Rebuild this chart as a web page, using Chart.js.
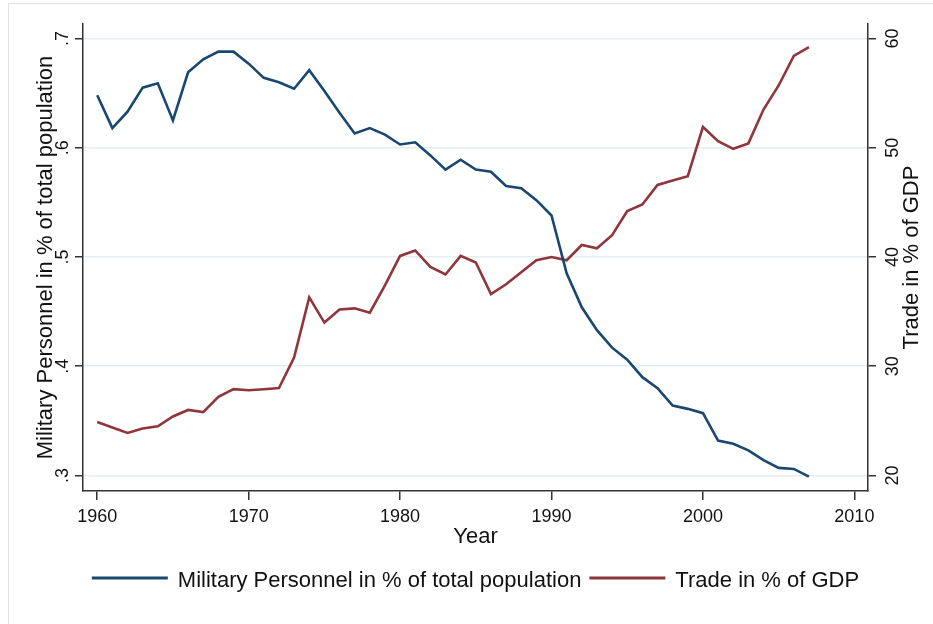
<!DOCTYPE html>
<html>
<head>
<meta charset="utf-8">
<script src="https://cdn.jsdelivr.net/npm/chart.js@4/dist/chart.umd.min.js"></script>
<style>
  html, body { margin: 0; padding: 0; background: #fff; }
  #wrap { width: 933px; height: 624px; position: relative; }
</style>
</head>
<body>
<div id="wrap"><canvas id="chart" width="933" height="624"></canvas></div>
<script>
// data
const years = [1960,1961,1962,1963,1964,1965,1966,1967,1968,1969,
    1970,1971,1972,1973,1974,1975,1976,1977,1978,1979,
    1980,1981,1982,1983,1984,1985,1986,1987,1988,1989,
    1990,1991,1992,1993,1994,1995,1996,1997,1998,1999,
    2000,2001,2002,2003,2004,2005,2006,2007];

const military = [0.648,0.618,0.633,0.655,0.659,0.625,0.669,0.681,0.688,0.688,
    0.677,0.664,0.660,0.654,0.671,0.652,0.632,0.613,0.618,0.612,
    0.603,0.605,0.593,0.580,0.589,0.580,0.578,0.565,0.563,0.552,
    0.538,0.485,0.454,0.433,0.417,0.406,0.390,0.380,0.364,0.361,
    0.357,0.332,0.329,0.323,0.314,0.307,0.306,0.299];

const trade = [24.9,24.4,23.9,24.3,24.5,25.4,26.0,25.8,27.2,27.9,
    27.8,27.9,28.0,30.8,36.3,34.0,35.2,35.3,34.9,37.4,
    40.1,40.6,39.1,38.4,40.1,39.5,36.6,37.5,38.6,39.7,
    40.0,39.7,41.1,40.8,42.0,44.2,44.8,46.6,47.0,47.4,
    51.9,50.6,49.9,50.4,53.5,55.7,58.4,59.2];

const seriesNames = ['Military Personnel in % of total population', 'Trade in % of GDP'];
const seriesColors = ['#1a476f', '#90353b'];

const xTicks = [1960, 1970, 1980, 1990, 2000, 2010];
const leftTicks = [0.3, 0.4, 0.5, 0.6, 0.7];
const leftTickLabels = ['.3', '.4', '.5', '.6', '.7'];
const rightTicks = [20, 30, 40, 50, 60];
const rightTickLabels = ['20', '30', '40', '50', '60'];

const xTitle = 'Year';
const leftTitle = 'Military Personnel in % of total population';
const rightTitle = 'Trade in % of GDP';

const FONT = '"Liberation Sans", Arial, sans-serif';
const AXIS = '#333';

const textPlugin = {
    id: 'stataText',
    beforeDraw(chart) {
        const ctx = chart.ctx;
        ctx.save();
        ctx.strokeStyle = '#e3e3e3';
        ctx.lineWidth = 1;
        ctx.strokeRect(8.5, 3.5, 1000, 1000);
        ctx.restore();
    },
    afterDraw(chart) {
        const ctx = chart.ctx;
        const area = chart.chartArea;
        const sx = chart.scales.x, yl = chart.scales.y, yr = chart.scales.y1;
        ctx.save();
        ctx.fillStyle = '#111';

        // x tick labels
        ctx.font = '18px ' + FONT;
        ctx.textAlign = 'center';
        ctx.textBaseline = 'alphabetic';
        xTicks.forEach(v => ctx.fillText(String(v), sx.getPixelForValue(v), 522));

        // x title
        ctx.font = '22px ' + FONT;
        ctx.fillText(xTitle, (area.left + area.right) / 2, 543);

        // rotated labels
        const vtext = (txt, x, y, font) => {
            ctx.save();
            ctx.translate(x, y);
            ctx.rotate(-Math.PI / 2);
            ctx.font = font;
            ctx.textAlign = 'center';
            ctx.fillText(txt, 0, 0);
            ctx.restore();
        };
        leftTicks.forEach((v, i) => vtext(leftTickLabels[i], 68, yl.getPixelForValue(v), '18px ' + FONT));
        rightTicks.forEach((v, i) => vtext(rightTickLabels[i], 898, yr.getPixelForValue(v), '18px ' + FONT));
        const midY = (area.top + area.bottom) / 2;
        vtext(leftTitle, 52, midY, '22px ' + FONT);
        vtext(rightTitle, 918, midY, '22px ' + FONT);

        // legend
        ctx.font = '22px ' + FONT;
        const sample = 76, gapText = 10, gapItem = 8;
        const widths = seriesNames.map(n => ctx.measureText(n).width);
        let total = 0;
        widths.forEach((w, i) => { total += sample + gapText + w + (i < widths.length - 1 ? gapItem : 0); });
        let x = (area.left + area.right) / 2 - total / 2;
        const ly = 578;
        seriesNames.forEach((n, i) => {
            ctx.strokeStyle = seriesColors[i];
            ctx.lineWidth = 3;
            ctx.beginPath();
            ctx.moveTo(x, ly);
            ctx.lineTo(x + sample, ly);
            ctx.stroke();
            x += sample + gapText;
            ctx.textAlign = 'left';
            ctx.fillText(n, x, 587);
            x += widths[i] + gapItem;
        });
        ctx.restore();
    }
};

const ctx = document.getElementById('chart').getContext('2d');
new Chart(ctx, {
    type: 'line',
    data: {
        datasets: [{
            label: seriesNames[0],
            data: years.map((yr, i) => ({ x: yr, y: military[i] })),
            borderColor: seriesColors[0],
            borderWidth: 2.6,
            pointRadius: 0,
            tension: 0,
            yAxisID: 'y'
        }, {
            label: seriesNames[1],
            data: years.map((yr, i) => ({ x: yr, y: trade[i] })),
            borderColor: seriesColors[1],
            borderWidth: 2.6,
            pointRadius: 0,
            tension: 0,
            yAxisID: 'y1'
        }]
    },
    options: {
        responsive: false,
        animation: false,
        layout: { padding: { left: 0, right: 0, top: 24, bottom: 0 } },
        plugins: { legend: { display: false }, tooltip: { enabled: false } },
        scales: {
            x: {
                type: 'linear',
                min: 1959.06,
                max: 2010.9,
                afterBuildTicks: s => { s.ticks = xTicks.map(v => ({ value: v })); },
                afterFit: s => { s.height = 133; },
                ticks: { display: false },
                grid: { drawOnChartArea: false, drawTicks: true, tickLength: 9, tickColor: AXIS, lineWidth: 1.5 },
                border: { display: true, color: AXIS, width: 1.5 }
            },
            y: {
                position: 'left',
                min: 0.28581,
                max: 0.71327,
                afterBuildTicks: s => { s.ticks = leftTicks.map(v => ({ value: v })); },
                afterFit: s => { s.width = 83; },
                ticks: { display: false },
                grid: { color: '#e6eef1', lineWidth: 1.5, drawTicks: true, tickLength: 8, tickColor: AXIS },
                border: { display: true, color: AXIS, width: 1.5 }
            },
            y1: {
                position: 'right',
                min: 18.581,
                max: 61.327,
                afterBuildTicks: s => { s.ticks = rightTicks.map(v => ({ value: v })); },
                afterFit: s => { s.width = 65; },
                ticks: { display: false },
                grid: { drawOnChartArea: false, drawTicks: true, tickLength: 8, tickColor: AXIS, lineWidth: 1.5 },
                border: { display: true, color: AXIS, width: 1.5 }
            }
        }
    },
    plugins: [textPlugin]
});
</script>
</body>
</html>
